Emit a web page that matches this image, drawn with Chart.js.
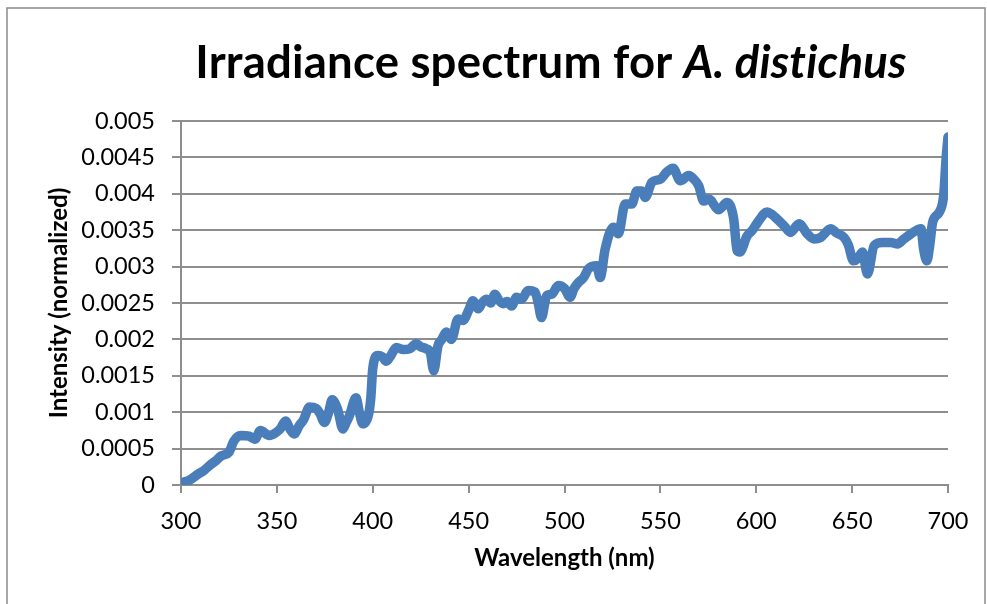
<!DOCTYPE html>
<html>
<head>
<meta charset="utf-8">
<title>Irradiance spectrum for A. distichus</title>
<script src="https://cdn.jsdelivr.net/npm/chart.js@4.4.1/dist/chart.umd.min.js"></script>
<style>
  html, body { margin: 0; padding: 0; background: #ffffff; }
  #wrap { position: relative; width: 987px; height: 604px; }
  canvas { display: block; }
</style>
</head>
<body>
<div id="wrap"><canvas id="chart" width="987" height="604"></canvas></div>
<script>
// Measured irradiance spectrum (normalized intensity vs wavelength in nm)
const wavelengths = [
  300, 304, 309, 312, 315, 318, 321, 325, 327.5, 331, 335.5, 338.5, 341.5, 346, 349.5,
  352, 354.5, 357, 359, 361.5, 364, 367, 370.5, 372.5, 374.8, 377, 378.8, 381.7, 384.4,
  386, 387.8, 391.3, 393, 394.8, 397.9, 399, 400, 402.7, 405, 407, 409.5, 412.3, 416,
  419.2, 422.7, 425, 428, 430, 431.8, 434, 436, 438.4, 441, 444.5, 447, 450, 452.3, 455,
  457, 459.3, 461.5, 463.7, 466, 468, 470, 472.4, 475, 477.6, 481, 484.6, 486.3, 488,
  490.7, 493.3, 496.8, 500, 502.9, 505, 507.2, 510, 512.5, 516.8, 518.6, 521.2, 525.5,
  528.1, 531.6, 535.1, 537.7, 540.4, 542.1, 545.6, 549.9, 553.4, 556.6, 560.4, 564.7,
  567.5, 570, 572.6, 575.2, 580.4, 584.8, 588.2, 590, 591.4, 595.2, 598, 601.3, 605.7,
  608, 611, 614.5, 617.9, 622.3, 626.6, 630.1, 633.6, 638.8, 642, 645.8, 648, 650.7, 653,
  655.4, 658, 661.5, 665.9, 670.2, 673.7, 677, 680.7, 685.9, 687.3, 689, 690.5, 692,
  695.5, 697.7, 699, 700
];
const intensity = [
  0.00003, 0.00006, 0.00015, 0.0002, 0.00027, 0.00033, 0.0004, 0.00045, 0.0006, 0.00068,
  0.00067, 0.00063, 0.00075, 0.00068, 0.00072, 0.00078, 0.00088, 0.00076, 0.0007, 0.00081,
  0.0009, 0.00107, 0.00105, 0.00098, 0.00086, 0.001, 0.00117, 0.00104, 0.00077, 0.00085,
  0.00095, 0.0012, 0.001, 0.00084, 0.00098, 0.0012, 0.0016, 0.00178, 0.00176, 0.0017,
  0.00178, 0.00189, 0.00186, 0.00187, 0.00194, 0.0019, 0.00187, 0.00182, 0.00157, 0.00191,
  0.002, 0.0021, 0.002, 0.00228, 0.00226, 0.0024, 0.00253, 0.00242, 0.0025, 0.00255,
  0.0025, 0.00262, 0.00253, 0.00249, 0.00252, 0.00246, 0.00258, 0.00255, 0.00267, 0.00265,
  0.0025, 0.0023, 0.0026, 0.00262, 0.00274, 0.0027, 0.00258, 0.0027, 0.00278, 0.00285,
  0.00297, 0.00301, 0.00285, 0.00324, 0.00354, 0.00345, 0.00386, 0.00386, 0.00404, 0.00404,
  0.00395, 0.00416, 0.0042, 0.0043, 0.00435, 0.00418, 0.00425, 0.0042, 0.00411, 0.0039,
  0.00393, 0.00378, 0.00388, 0.00366, 0.00322, 0.0032, 0.00342, 0.0035, 0.00363, 0.00375,
  0.00372, 0.00365, 0.00356, 0.00347, 0.00359, 0.00345, 0.00338, 0.0034, 0.00352, 0.00346,
  0.0034, 0.0033, 0.00308, 0.00311, 0.0032, 0.0029, 0.00329, 0.00333, 0.00333, 0.00331,
  0.00338, 0.00345, 0.00352, 0.00324, 0.00308, 0.0033, 0.00361, 0.00375, 0.00397, 0.00448,
  0.00478
];
const xTicks = [300, 350, 400, 450, 500, 550, 600, 650, 700];
const yTicks = [0, 0.0005, 0.001, 0.0015, 0.002, 0.0025, 0.003, 0.0035, 0.004, 0.0045, 0.005];

const titleMain = 'Irradiance spectrum for ';
const titleItalic = 'A. distichus';
const xTitle = 'Wavelength (nm)';
const yTitle = 'Intensity (normalized)';

const FONT = 'Lato, "Open Sans", sans-serif';
const GRID = '#8e8e8e';
const LINE = '#4a7ebb';

// Outer frame and mixed-style title (regular bold + bold italic species name)
const decorations = {
  id: 'decorations',
  afterDraw(chart) {
    const ctx = chart.ctx;
    ctx.save();
    ctx.strokeStyle = '#8a8a8a';
    ctx.lineWidth = 1.5;
    ctx.beginPath();
    ctx.moveTo(7, 700);
    ctx.lineTo(7, 8);
    ctx.lineTo(985, 8);
    ctx.lineTo(985, 700);
    ctx.stroke();

    // plain glyphs, no "ti" ligature
    ctx.textRendering = 'optimizeSpeed';
    ctx.letterSpacing = '0.2px';
    const size = 45.5;
    const fA = 'bold ' + size + 'px ' + FONT;
    const fB = 'italic bold ' + size + 'px ' + FONT;
    ctx.font = fA;
    const wA = ctx.measureText(titleMain).width;
    ctx.font = fB;
    const wB = ctx.measureText(titleItalic).width;
    const cx = 551;
    const x0 = cx - (wA + wB) / 2;
    const baseline = 78;
    ctx.fillStyle = '#000000';
    ctx.textBaseline = 'alphabetic';
    ctx.textAlign = 'left';
    ctx.font = fA;
    ctx.fillText(titleMain, x0, baseline);
    ctx.font = fB;
    ctx.fillText(titleItalic, x0 + wA, baseline);
    ctx.restore();
  }
};

const points = wavelengths.map((w, i) => ({ x: w, y: intensity[i] }));

new Chart(document.getElementById('chart'), {
  type: 'line',
  data: {
    datasets: [{
      data: points,
      borderColor: LINE,
      backgroundColor: LINE,
      borderWidth: 9.5,
      pointRadius: 0,
      borderCapStyle: 'round',
      borderJoinStyle: 'round',
      cubicInterpolationMode: 'monotone',
      fill: false
    }]
  },
  options: {
    responsive: false,
    animation: false,
    events: [],
    layout: { padding: { left: 0, right: 39, top: 121, bottom: 0 } },
    plugins: {
      legend: { display: false },
      title: { display: false },
      tooltip: { enabled: false }
    },
    scales: {
      x: {
        type: 'linear',
        min: 300,
        max: 700,
        afterBuildTicks(scale) { scale.ticks = xTicks.map(v => ({ value: v })); },
        afterFit(scale) { scale.height = 119; },
        grid: { drawOnChartArea: false, drawTicks: true, tickLength: 8, color: GRID, lineWidth: 2 },
        border: { display: true, color: GRID, width: 2 },
        ticks: {
          padding: 14,
          color: '#000000',
          font: { family: FONT, size: 23.5 },
          maxRotation: 0,
          callback: v => String(v)
        },
        title: {
          display: true,
          text: xTitle,
          color: '#000000',
          font: { family: FONT, size: 24, weight: 'bold' },
          padding: { top: 0, bottom: 31 }
        }
      },
      y: {
        type: 'linear',
        min: 0,
        max: 0.005,
        afterBuildTicks(scale) { scale.ticks = yTicks.map(v => ({ value: v })); },
        afterFit(scale) { scale.width = 181; },
        grid: { drawOnChartArea: true, drawTicks: true, tickLength: 9, color: GRID, lineWidth: 2 },
        border: { display: true, color: GRID, width: 2 },
        ticks: {
          padding: 17,
          color: '#000000',
          font: { family: FONT, size: 23.5 },
          callback: v => String(Number(v.toFixed(4)))
        },
        title: {
          display: true,
          text: yTitle,
          color: '#000000',
          font: { family: FONT, size: 24, weight: 'bold' },
          padding: { top: 45, bottom: 0 }
        }
      }
    }
  },
  plugins: [decorations]
});
</script>
</body>
</html>
